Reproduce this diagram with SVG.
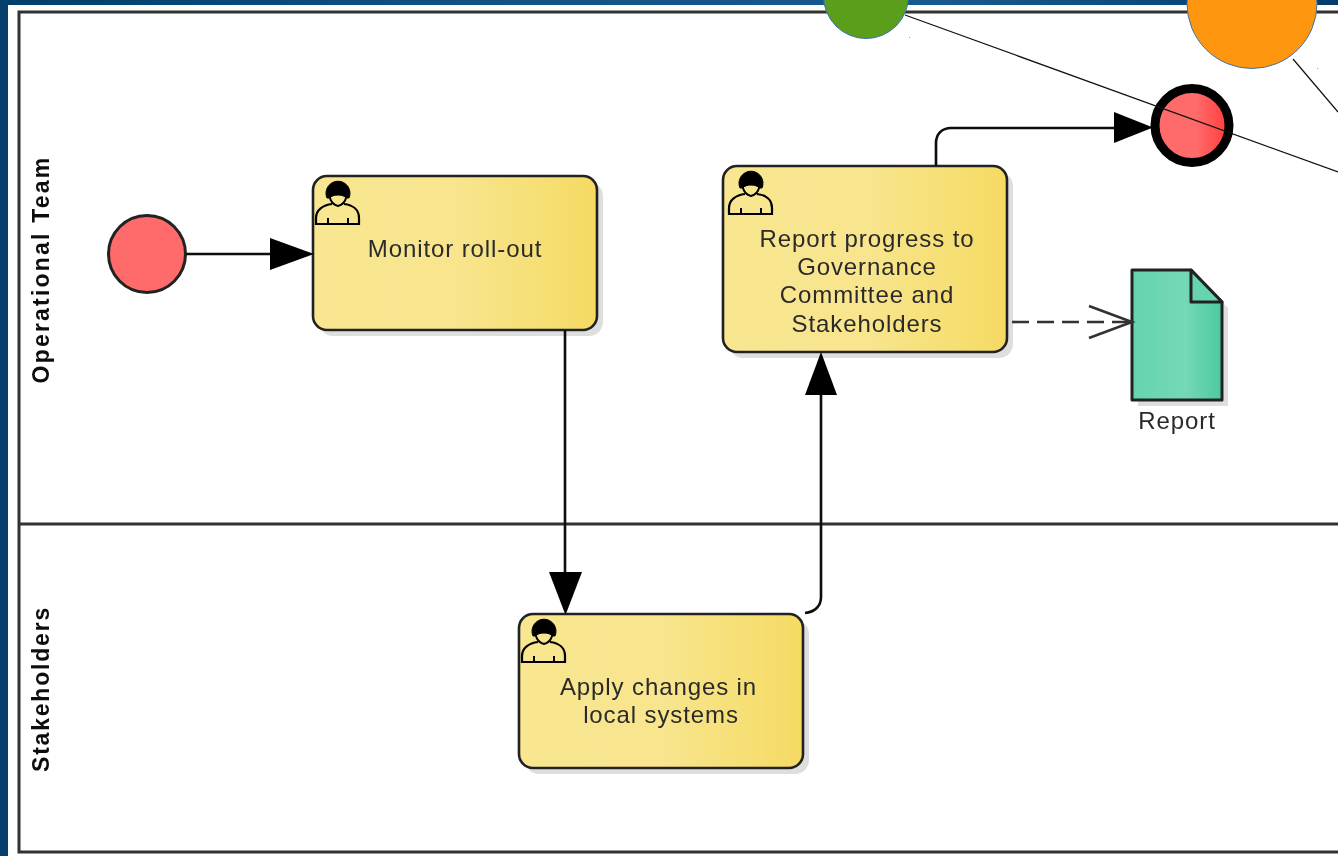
<svg xmlns="http://www.w3.org/2000/svg" width="1338" height="856" viewBox="0 0 1338 856">
<style>
.flow{fill:none;stroke:#111;stroke-width:2.600}
.head{fill:#000;stroke:none}
.task{fill:url(#taskFill);stroke:#222;stroke-width:2.600}
.shadow{fill:#000;fill-opacity:.13}
.t{font-family:"Liberation Sans",Arial,sans-serif;font-size:24px;letter-spacing:.9px;fill:#2a2a2a;text-anchor:middle}
.lane{font-family:"Liberation Sans",Arial,sans-serif;font-size:23px;font-weight:bold;fill:#111;text-anchor:middle}
.thin{fill:none;stroke:#111;stroke-width:1.200}
</style>
<defs>
<linearGradient id="band" x1="0" x2="1" y1="0" y2="0"><stop offset="0" stop-color="#003e6b"/><stop offset=".35" stop-color="#115286"/><stop offset=".7" stop-color="#175a90"/><stop offset="1" stop-color="#043d6c"/></linearGradient>
<linearGradient id="taskFill" x1="0" x2="1" y1="0" y2="0"><stop offset="0" stop-color="#f8e690"/><stop offset=".5" stop-color="#f8e58e"/><stop offset=".85" stop-color="#f6de70"/><stop offset="1" stop-color="#f5da62"/></linearGradient>
<linearGradient id="docFill" x1="0" x2="1" y1="0" y2="0"><stop offset="0" stop-color="#66d4ae"/><stop offset=".6" stop-color="#74d8b6"/><stop offset="1" stop-color="#4cca9e"/></linearGradient>
<linearGradient id="endFill" x1="0" x2="1" y1="0" y2="0"><stop offset="0" stop-color="#ff6b6b"/><stop offset=".55" stop-color="#ff6b6b"/><stop offset="1" stop-color="#ff3c3c"/></linearGradient>
<filter id="soft" x="-2%" y="-2%" width="104%" height="104%"><feGaussianBlur stdDeviation=".6"/></filter>
<g id="user">
<path d="M-11 8A12 12 0 1 1 11 8L8 8C6 4 -6 4 -8 8Z" fill="#000" stroke="#000" stroke-width="1"/>
<path d="M-8 8C-7 12 -4 15 0 16C4 15 7 12 8 8" fill="none" stroke="#000" stroke-width="2"/>
<path d="M-6 14C-15 15 -22 20 -22 28V34H21V28C21 20 15 15 6 14" fill="none" stroke="#000" stroke-width="2.200"/>
<path d="M-10 28V34M10 28V34" fill="none" stroke="#000" stroke-width="2"/>
</g>
</defs>
<rect width="1338" height="856" fill="#fff"/>
<rect width="1338" height="5" fill="url(#band)"/>
<rect width="8" height="856" fill="#023f6c"/>
<g filter="url(#soft)">
<g id="pool" fill="none" stroke="#333" stroke-width="3">
<path d="M1338 12H19V852H1338"/>
<path d="M19 524H1338"/>
<text class="lane" transform="translate(49 269.500) rotate(-90)" stroke="none" letter-spacing="2.200">Operational Team</text>
<text class="lane" transform="translate(49 689) rotate(-90)" stroke="none" letter-spacing="1.800">Stakeholders</text>
</g>
<g id="start"><circle cx="147" cy="254" r="38.500" fill="#ff6b6b" stroke="#222" stroke-width="3"/></g>
<g id="task-monitor">
<rect class="shadow" x="319" y="182" width="284" height="154" rx="14"/>
<rect class="task" x="313" y="176" width="284" height="154" rx="14"/>
<use href="#user" x="338" y="190"/>
<text class="t" x="455" y="257">Monitor roll-out</text>
</g>
<g id="task-report">
<rect class="shadow" x="729" y="172" width="284" height="186" rx="14"/>
<rect class="task" x="723" y="166" width="284" height="186" rx="14"/>
<use href="#user" x="751" y="180"/>
<text class="t" x="867" y="247">Report progress to</text>
<text class="t" x="867" y="275">Governance</text>
<text class="t" x="867" y="303">Committee and</text>
<text class="t" x="867" y="332">Stakeholders</text>
</g>
<g id="task-apply">
<rect class="shadow" x="525" y="620" width="284" height="154" rx="14"/>
<rect class="task" x="519" y="614" width="284" height="154" rx="14"/>
<use href="#user" x="544" y="628"/>
<text class="t" x="658.500" y="695">Apply changes in</text>
<text class="t" x="661" y="723">local systems</text>
</g>
<g id="end"><circle cx="1192" cy="125.500" r="37" fill="url(#endFill)" stroke="#000" stroke-width="9"/></g>
<g id="doc-report">
<path d="M1138 276H1197L1228 308V406H1138Z" fill="#000" fill-opacity=".13"/>
<path d="M1132 270H1191L1222 302V400H1132Z" fill="url(#docFill)" stroke="#222" stroke-width="3" stroke-linejoin="round"/>
<path d="M1191 270V302H1222Z" fill="#66d4ae" stroke="#222" stroke-width="3" stroke-linejoin="round"/>
<text class="t" x="1177" y="429">Report</text>
</g>
<g id="connectors">
<path class="flow" d="M186 254H272"/>
<path class="head" d="M270 238L314 254L270 270Z"/>
<path class="flow" d="M565 330V574"/>
<path class="head" d="M549 572H582L565.500 615Z"/>
<path class="flow" d="M805 613C815 612 821 606 821 597V393"/>
<path class="head" d="M805 395H837L821 352Z"/>
<path class="flow" d="M936 166V143C936 134 942 128 951 128H1116"/>
<path class="head" d="M1114 112V143L1153 127.500Z"/>
<path class="flow" d="M1012 322H1130" stroke-dasharray="17 8" style="stroke:#333"/>
<path class="flow" d="M1089 306L1132 322L1089 338" style="stroke:#333"/>
</g>
</g>
<g id="circle-green"><circle cx="866" cy="-4" r="42.500" fill="#5a9e1b" stroke="#3b73af" stroke-width="1"/></g>
<g id="circle-orange"><circle cx="1252" cy="3.500" r="65" fill="#ff960f" stroke="#3b73af" stroke-width="1"/></g>
<g id="long-links">
<path class="thin" d="M905 15L1338 172"/>
<path class="thin" d="M1293 59L1338 112"/>
</g>
<g id="specks" fill="#7aa2d6"><rect x="909" y="37" width="1" height="1"/><rect x="1317" y="68" width="1" height="1"/></g>
</svg>
